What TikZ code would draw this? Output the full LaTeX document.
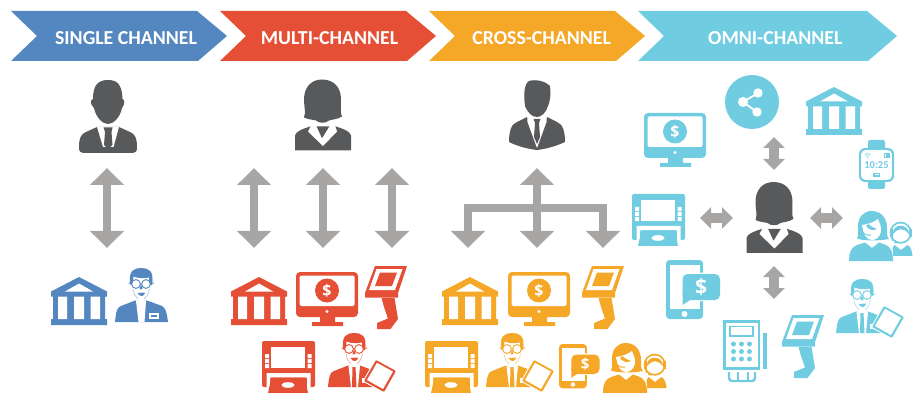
\documentclass[tikz,border=0pt]{standalone}
\usepackage{fontspec}
\setmainfont{Carlito}
\newfontfamily\duefont{Open Sans}
\usetikzlibrary{arrows.meta}
\definecolor{chblue}{HTML}{5487BF}
\definecolor{chred}{HTML}{E44F36}
\definecolor{chorange}{HTML}{F5A727}
\definecolor{chcyan}{HTML}{70CDE1}
\definecolor{persondark}{HTML}{58595B}
\definecolor{arrowgrey}{HTML}{A8A5A5}
\newcommand{\clerkhead}[1]{%
  \fill[#1] (0,54) .. controls (1,44) and (2,39) .. (6,38) -- (20,32.5) -- (32,32.5) -- (47,38) .. controls (51,40) and (52,46) .. (53,54) -- cycle;
  \fill[white] (19,22) .. controls (20,30) and (23,33) .. (26,33) .. controls (29,33) and (32,30) .. (33,22) -- cycle;
  \fill[#1] (15.5,17) .. controls (12.5,2) and (20,0) .. (26,0) .. controls (33,0) and (39.5,2) .. (37,17) -- (34.5,17) -- (34,9.5) .. controls (28,10.5) and (23,10.5) .. (18.5,8.5) -- (18,17) -- cycle;
  \draw[#1,line width=.9,fill=white] (21,16) circle (4.4) (31,16) circle (4.4);
  \draw[#1,line width=.9] (13.5,15) -- (17,15.5) (35,15.5) -- (39,15);
  \fill[#1] (26,16) -- (24.5,21.5) -- (27.5,21) -- cycle;
  \fill[#1] (22.5,25) -- (30,24.5) .. controls (30,28) and (25,30) .. (22.5,25) -- cycle;
  \draw[#1!55,line width=.6] (18,21) .. controls (19,27) and (21,29) .. (23,31) (34.5,21) .. controls (33.5,27) and (31,29) .. (29,31);
}
\tikzset{
  chevron/.style={fill=#1,draw=none},
  bannertext/.style={text=white,anchor=base,inner sep=0pt,font=\fontsize{19.8}{19.8}\selectfont\bfseries},
  dollar/.style={text=white,inner sep=0pt,font=\duefont\bfseries\fontsize{#1}{#1}\selectfont},
  garrow/.style={draw=arrowgrey,line width=8pt,{Triangle[width=33pt,length=17pt,sep=0pt]}-{Triangle[width=33pt,length=17pt,sep=0pt]}},
  sarrow/.style={draw=arrowgrey,line width=10pt,{Triangle[width=21pt,length=11pt,sep=0pt]}-{Triangle[width=21pt,length=11pt,sep=0pt]}},
  pics/bankicon/.style={code={
    \fill[#1] (0,14.5) -- (28,0) -- (56,14.5) -- (56,19.5) -- (54,19.5) -- (54,42) -- (56,42) -- (56,48) -- (0,48) -- (0,42) -- (2,42) -- (2,19.5) -- (0,19.5) -- cycle;
    \fill[white] (14,14.5) -- (28,6.5) -- (42,14.5) -- cycle;
    \fill[white] (7,19.5) rectangle (16,42) (23,19.5) rectangle (33,42) (39.5,19.5) rectangle (49,42);
  }},
  pics/monitoricon/.style={code={
    \fill[#1,rounded corners=4pt] (0,0) rectangle (62,45);
    \fill[white,rounded corners=1.5pt] (3.5,3.5) rectangle (58.5,34);
    \fill[#1] (31,18.5) circle (12);
    \node[dollar=16] (-d) at (31,18.5) {\$};
    \fill[white] (31,39.5) circle (1.6);
    \fill[#1] (24,45) rectangle (39,50) (16,50) rectangle (47,54);
  }},
  pics/kioskicon/.style={code={
    \fill[#1] (10,0) -- (42,0) -- (33,27) -- (33,31.5) -- (0,31.5) -- (0,27) -- cycle;
    \fill[white] (11.5,3) -- (37.5,3) -- (30,24) -- (4,24) -- cycle;
    \fill[#1] (15,6.5) -- (32,6.5) -- (27,20) -- (10,20) -- cycle;
    \fill[#1] (16.5,32) -- (29.5,32) -- (33,53) -- (25.5,63) -- (12,63) -- (12,57) -- (23,52.5) -- (19,41) -- cycle;
  }},
  pics/atmicon/.style={code={
    \fill[#1,rounded corners=2pt] (0,0) rectangle (53,46);
    \fill[white] (9,6) rectangle (43,27);
    \fill[white] (3,13) rectangle (7,17) (3,18) rectangle (7,22) (3,23) rectangle (7,27);
    \fill[white] (45.5,13) rectangle (49.5,17) (45.5,18) rectangle (49.5,22) (45.5,23) rectangle (49.5,27);
    \fill[white] (4.5,32) rectangle (48.5,36.5) (4.5,36) rectangle (8,46.5) (45,36) rectangle (48.5,46.5);
    \fill[#1] (9.5,36.5) -- (43,36.5) -- (46,52) -- (6,52) -- cycle;
    \fill[white] (26,44) ellipse (6.5 and 2.8);
  }},
  pics/clerkbadge/.style={code={
    \clerkhead{#1}
    \fill[white] (21,33) -- (24.5,31) -- (27.5,31) -- (31,33) -- (29.5,54) -- (23.5,54) -- cycle;
    \fill[white] (33.5,44.5) rectangle (43.5,50.5);
    \fill[#1] (35.5,46.5) rectangle (41.5,48.5);
  }},
  pics/clerktablet/.style={code={
    \clerkhead{#1}
    \fill[white] (20.5,33) -- (24.5,31) -- (28,31) -- (32,33) -- (30,54) -- (23,54) -- cycle;
    \fill[#1] (24.5,34) -- (27.5,34) -- (28.5,54) -- (24,54) -- cycle;
    \fill[white] (33.5,45) rectangle (39,50);
    \fill[white] (47.5,25.8) -- (69.3,38) -- (56.5,60) -- (34.5,48.5) -- cycle;
    \fill[#1,rounded corners=1pt] (48,27) -- (68,38) -- (56,59) -- (36,48) -- cycle;
    \fill[white] (49,29.8) -- (65,38.6) -- (55,56) -- (39,47) -- cycle;
  }},
  pics/phoneicon/.style 2 args={code={
    \fill[#1,rounded corners=3.5pt] (0,0) rectangle (37,59);
    \fill[white] (3.5,5) rectangle (34,49);
    \fill[white] (18.5,54) circle (3);
    \fill[white,rounded corners=5pt] (15,12.5) rectangle (55,41);
    \fill[white] (15,30) -- (15,48) -- (28,40) -- cycle;
    \fill[#1,rounded corners=5pt] (16.5,14) rectangle (54,40);
    \fill[#1] (16.5,30) -- (16.5,45) -- (27,38) -- cycle;
    \node[dollar=#2] (-d) at (35,27) {\$};
  }},
  pics/agentsicon/.style={code={
    \fill[#1] (51.7,21.7) circle (11);
    \fill[white] (51.7,21.7) circle (9.2);
    \fill[#1] (44,23) .. controls (43,12) and (60,12) .. (60,23) .. controls (54,16.5) and (50,16.5) .. (44,23) -- cycle;
    \fill[#1] (41,18) rectangle (43.5,26);
    \fill[#1] (60,18) rectangle (62.5,26);
    \draw[#1,line width=.9] (42.5,26) .. controls (43,31) and (46,33) .. (50,31.5);
    \fill[white] (38,30) rectangle (45,50);
    \fill[#1] (41,50) -- (41,41) -- (45.5,34) -- (52,39) -- (58.5,34) .. controls (62,36) and (63,40) .. (63.5,45) -- (44,45) -- (44,50) -- cycle;
    \fill[white] (38,30) -- (43,30) -- (44.5,50) -- (38,50) -- cycle;
    \fill[#1] (0,50) .. controls (0,40) and (3,36) .. (8,34) -- (16,31.5) -- (23,37) -- (30,31.5) -- (37,34) .. controls (41,36) and (44,40) .. (44,50) -- cycle;
    \fill[#1] (22.5,0) .. controls (33,0) and (38,8) .. (38,17) .. controls (38,23) and (38,26) .. (40,28) .. controls (30,30) and (14,30) .. (8,27.5) .. controls (10,24) and (9,20) .. (9,15) .. controls (9,6) and (15,0) .. (22.5,0) -- cycle;
    \fill[white] (13,14) .. controls (20,13) and (25,11) .. (29,8) .. controls (31,14) and (33,16) .. (32,20) .. controls (31,27) and (26,29) .. (23,29) .. controls (18,29) and (14,24) .. (13,14) -- cycle;
    \fill[#1] (19,13) .. controls (23,16) and (25,17) .. (28,18) .. controls (24,20) and (20,19) .. (17,15) -- cycle;
    \draw[#1,line width=1] (13,17) .. controls (13,23) and (17,25) .. (22,24);
  }},
  pics/maleone/.style={code={
    \fill[#1] (0,67) .. controls (0,58) and (2,54) .. (7,52) -- (18,47) -- (40,47) -- (51,52) .. controls (56,54) and (58,58) .. (58,67) .. controls (58,71) and (57,73) .. (54,73) -- (4,73) .. controls (1,73) and (0,71) .. (0,67) -- cycle;
    \fill[white] (18,47) -- (40,47) -- (34.5,67) -- (24,67) -- cycle;
    \fill[#1] (24.5,47.5) -- (33.5,47.5) -- (32.5,52) -- (33.5,65) -- (29,69) -- (25,65) -- (26,52) -- cycle;
    \fill[#1] (29,0) .. controls (38,0) and (43,4) .. (43.5,19) .. controls (46,20) and (46,24) .. (43,28) .. controls (41,38) and (34,44) .. (29,44) .. controls (24,44) and (17,38) .. (15,28) .. controls (11,24) and (11,20) .. (14,19) .. controls (14,4) and (20,0) .. (29,0) -- cycle;
  }},
  pics/femaleone/.style={code={
    \fill[#1] (0,71) -- (0,56) .. controls (1,52) and (6,50) .. (15,47) -- (41,47) .. controls (50,50) and (55,52) .. (56,56) -- (56,71) -- cycle;
    \fill[white] (13,52) -- (16,46) -- (21,46) -- (27,59) -- (35,46) -- (40,46) -- (42,52) -- (28,66.5) -- cycle;
    \fill[#1] (27,0) .. controls (39,0) and (46,8) .. (46,20) .. controls (46,28) and (45,33) .. (47,37) .. controls (42,40) and (37,40) .. (34,41) .. controls (31,44) and (24,44) .. (21,41) .. controls (17,40) and (13,40) .. (9,38) .. controls (11,33) and (9,27) .. (9,20) .. controls (9,8) and (16,0) .. (27,0) -- cycle;
  }},
  pics/maleslim/.style={code={
    \fill[#1] (0,62) .. controls (0,52) and (2,44) .. (8,42) -- (18,37) -- (38,37) -- (48,42) .. controls (54,44) and (56,52) .. (56,62) .. controls (45,67) and (36,69) .. (28,70) .. controls (20,69) and (10,67) .. (0,62) -- cycle;
    \fill[white] (18,34) -- (38,34) -- (37.5,42) -- (28,68) -- (18.5,42) -- cycle;
    \fill[#1] (24.5,39) -- (31.5,39) -- (30,43) -- (31,57) -- (28,64) -- (25,57) -- (26,43) -- cycle;
    \fill[#1] (20,1) .. controls (27,-1) and (36,1) .. (41,6) .. controls (42,15) and (41,22) .. (39,26) .. controls (37,33) and (32,37) .. (28,37) .. controls (23,37) and (19,33) .. (16,26) .. controls (15,18) and (14,5) .. (20,1) -- cycle;
  }},
  pics/posicon/.style={code={
    \fill[#1] (0,0) rectangle (37,50);
    \fill[white] (3,3) rectangle (35,47);
    \draw[#1,line width=1.6,fill=white] (7,6.5) rectangle (30,16);
    \foreach \px in {10.5,18.5,26.5}{\foreach \py in {24,31.5,39}{\fill[#1] (\px,\py) circle (2.5);}}
    \fill[#1] (40,13) rectangle (44,49);
    \draw[#1,line width=2.4,rounded corners=3pt] (6,52) -- (6,61) -- (32,61) -- (32,52);
    \draw[#1,line width=2.4] (15,52) -- (15,60) (25,52) -- (25,60);
  }},
  pics/watchicon/.style={code={
    \fill[#1,rounded corners=2pt] (9,0) rectangle (26,49);
    \fill[#1,rounded corners=6pt] (0,8) rectangle (35,42);
    \fill[white,rounded corners=4pt] (2.2,10.2) rectangle (32.8,39.8);
    \node[text=#1,inner sep=0pt,font=\bfseries\fontsize{10.5}{10.5}\selectfont] (-t) at (17.5,25) {10:25};
    \fill[#1] (14,33) rectangle (21,37);
    \fill[white] (15.5,34.5) rectangle (19.5,35.5);
    \draw[#1,line width=.5] (5.5,15) .. controls (7,13) and (10,13) .. (11.5,15) (7,16.5) .. controls (8,15.5) and (9,15.5) .. (10,16.5);
    \fill[#1] (8.5,18) circle (.7);
    \draw[#1,line width=.5] (25,13) rectangle (30,17.5);
    \fill[#1] (27,13) rectangle (30,17.5);
  }}
}
\begin{document}
\begin{tikzpicture}[x=1pt,y=-1pt]
\path[use as bounding box] (0,0) rectangle (914,393);
% banners
\fill[chevron=chblue] (11,11) -- (197,11) -- (227,36) -- (198,61) -- (11,61) -- (37,36) -- cycle;
\fill[chevron=chred] (220,11) -- (406,11) -- (436,36) -- (407,61) -- (220,61) -- (246,36) -- cycle;
\fill[chevron=chorange] (429,11) -- (615,11) -- (645,36) -- (616,61) -- (429,61) -- (455,36) -- cycle;
\fill[chevron=chcyan] (638,11) -- (867,11) -- (897,36) -- (868,61) -- (638,61) -- (664,36) -- cycle;
\node[bannertext] (tsingle) at (126,45) {SINGLE CHANNEL};
\node[bannertext] (tmulti) at (329.5,45) {MULTI-CHANNEL};
\node[bannertext] (tcross) at (541.7,45) {CROSS-CHANNEL};
\node[bannertext] (tomni) at (775.3,45) {OMNI-CHANNEL};
% people
\pic (pa) at (79,80) {maleone=persondark};
\pic (pb) at (295,79.5) {femaleone=persondark};
\pic (pc) at (509,80) {maleslim=persondark};
\pic (pd) at (746.5,182) {femaleone=persondark};
% arrow anchors
\coordinate (a1t) at (107,168); \coordinate (a1b) at (107,248);
\coordinate (a2t) at (254,168); \coordinate (a2b) at (254,248);
\coordinate (a3t) at (323,168); \coordinate (a3b) at (323,248);
\coordinate (a4t) at (392,168); \coordinate (a4b) at (392,248);
\coordinate (a5t) at (537,168); \coordinate (a5b) at (537,248);
\coordinate (a6l) at (468,248); \coordinate (a6m) at (537,208); \coordinate (a6r) at (603,248);
\coordinate (o1t) at (774,137); \coordinate (o1b) at (774,170);
\coordinate (o2t) at (774,266); \coordinate (o2b) at (774,299);
\coordinate (o3l) at (700,218); \coordinate (o3r) at (733,218);
\coordinate (o4l) at (810,218); \coordinate (o4r) at (843,218);
\draw[garrow] (a1t) -- (a1b);
\draw[garrow] (a2t) -- (a2b);
\draw[garrow] (a3t) -- (a3b);
\draw[garrow] (a4t) -- (a4b);
\draw[garrow] (a5t) -- (a5b);
\draw[garrow,line join=miter] (a6l) |- (a6m) -| (a6r);
\draw[sarrow] (o1t) -- (o1b);
\draw[sarrow] (o2t) -- (o2b);
\draw[sarrow] (o3l) -- (o3r);
\draw[sarrow] (o4l) -- (o4r);
% single channel
\pic (b1) at (51,277) {bankicon=chblue};
\pic (c1) at (115,268) {clerkbadge=chblue};
% multi channel
\pic (b2) at (231,277) {bankicon=chred};
\pic (m2) at (296,272) {monitoricon=chred};
\pic (k2) at (365,266) {kioskicon=chred};
\pic (at2) at (262,341) {atmicon=chred};
\pic (c2) at (328,333) {clerktablet=chred};
% cross channel
\pic (b3) at (442,277) {bankicon=chorange};
\pic (m3) at (508,272) {monitoricon=chorange};
\pic (k3) at (582,266) {kioskicon=chorange};
\pic (at3) at (425,341) {atmicon=chorange};
\pic (c3) at (486,333) {clerktablet=chorange};
\pic[scale=.75] (ph3) at (559,344) {phoneicon={chorange}{15}};
\pic (ag3) at (603,343) {agentsicon=chorange};
% omni channel
\pic (m4) at (644,113) {monitoricon=chcyan};
\fill[chcyan] (752,102) circle (27);
\coordinate (s1) at (743,102); \coordinate (s2) at (758,93); \coordinate (s3) at (757,112);
\draw[white,line width=1.8] (s2) -- (s1) -- (s3);
\fill[white] (s1) circle (5) (s2) circle (4.7) (s3) circle (4.7);
\pic (b4) at (806,87) {bankicon=chcyan};
\pic (w4) at (859,140) {watchicon=chcyan};
\pic (at4) at (632,194) {atmicon=chcyan};
\pic (ag4) at (849,211) {agentsicon=chcyan};
\pic (ph4) at (666,260) {phoneicon={chcyan}{21}};
\pic (c4) at (836,279) {clerktablet=chcyan};
\pic (pos4) at (723,320) {posicon=chcyan};
\pic (k4) at (782,315) {kioskicon=chcyan};
\end{tikzpicture}
\end{document}
